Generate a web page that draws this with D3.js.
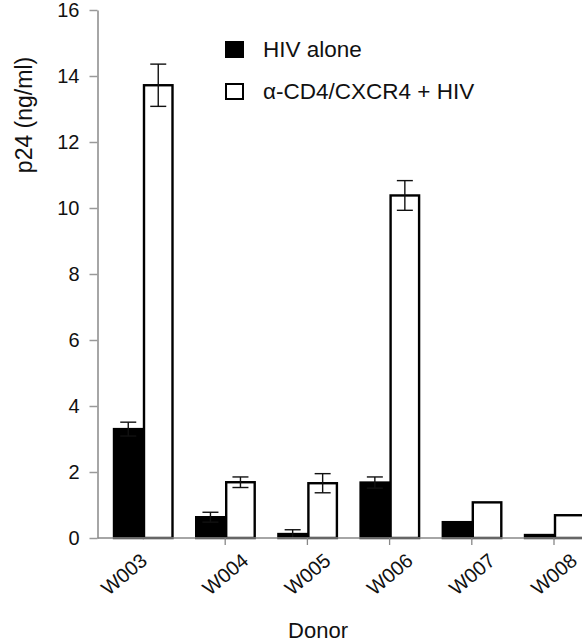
<!DOCTYPE html>
<html>
<head>
<meta charset="utf-8">
<script src="https://cdn.jsdelivr.net/npm/d3@7"></script>
<style>
  html, body { margin: 0; padding: 0; background: #fff; }
  svg { display: block; font-family: "Liberation Sans", Arial, Helvetica, sans-serif; }
</style>
</head>
<body>
<svg id="chart" width="582" height="643"></svg>
<script>
// Donors and p24 readings (ng/ml), mean and error per condition
const donors = ["W003", "W004", "W005", "W006", "W007", "W008"];
const series = ["HIV alone", "\u03B1-CD4/CXCR4 + HIV"];
const hivAlone = [3.30, 0.63, 0.12, 1.68, 0.48, 0.09];
const hivAloneErr = [0.21, 0.15, 0.13, 0.17, 0, 0];
const antiCd4 = [13.72, 1.69, 1.66, 10.38, 1.08, 0.69];
const antiCd4Err = [0.64, 0.16, 0.29, 0.45, 0, 0];
const yTicks = [0, 2, 4, 6, 8, 10, 12, 14, 16];

const svg = d3.select("#chart");

const y = d3.scaleLinear().domain([0, 16]).range([538, 10]);
const x = d3.scalePoint().domain(donors).range([143, 554]);
const xSub = d3.scaleBand().domain(series).range([-30, 30]);

const rows = donors.map((d, i) => ({
  donor: d,
  values: [
    { s: series[0], v: hivAlone[i], e: hivAloneErr[i] },
    { s: series[1], v: antiCd4[i], e: antiCd4Err[i] }
  ]
}));

const fills = { [series[0]]: "#000", [series[1]]: "#fff" };

// Bars
const groups = svg.append("g").selectAll("g")
  .data(rows).join("g")
  .attr("transform", d => `translate(${x(d.donor)},0)`);

groups.selectAll("rect")
  .data(d => d.values).join("rect")
  .attr("x", d => xSub(d.s) + 1)
  .attr("width", xSub.bandwidth() - 1.5)
  .attr("y", d => y(d.v))
  .attr("height", d => y(0) - y(d.v))
  .attr("fill", d => fills[d.s])
  .attr("stroke", "#000")
  .attr("stroke-width", 2.4);

// Error bars
const errs = groups.selectAll("g.err")
  .data(d => d.values.filter(v => v.e > 0)).join("g")
  .attr("class", "err")
  .attr("stroke", "#111")
  .attr("stroke-width", 1.4);
const cx = d => xSub(d.s) + xSub.bandwidth() / 2 + 0.25;
errs.append("line")
  .attr("x1", cx).attr("x2", cx)
  .attr("y1", d => y(d.v + d.e)).attr("y2", d => y(d.v - d.e));
errs.append("line")
  .attr("x1", d => cx(d) - 8).attr("x2", d => cx(d) + 8)
  .attr("y1", d => y(d.v + d.e)).attr("y2", d => y(d.v + d.e));
errs.append("line")
  .attr("x1", d => cx(d) - 8).attr("x2", d => cx(d) + 8)
  .attr("y1", d => y(d.v - d.e)).attr("y2", d => y(d.v - d.e));

// Y axis
const yAxis = svg.append("g")
  .attr("transform", "translate(97.5,0)")
  .call(d3.axisLeft(y).tickValues(yTicks).tickSize(8).tickSizeOuter(0).tickPadding(10));
yAxis.select(".domain").attr("stroke", "#888").attr("stroke-width", 1.5);
yAxis.selectAll(".tick line").attr("stroke", "#999").attr("stroke-width", 1.5);
yAxis.selectAll(".tick text")
  .attr("fill", "#111")
  .style("font-size", "20px")
  .style("font-family", "Liberation Sans, Arial, sans-serif");

// X axis baseline and ticks
svg.append("line")
  .attr("x1", 97.5).attr("x2", 582)
  .attr("y1", y(0)).attr("y2", y(0))
  .attr("stroke", "#888").attr("stroke-width", 1.5);
svg.append("g").selectAll("line")
  .data(donors.slice(1)).join("line")
  .attr("x1", d => x(d)).attr("x2", d => x(d))
  .attr("y1", y(0)).attr("y2", y(0) + 7)
  .attr("stroke", "#888").attr("stroke-width", 1.3);

// Rotated donor labels (the first one sits a little closer to the axis)
svg.append("g").selectAll("text")
  .data(donors).join("text")
  .attr("transform", (d, i) => `translate(${x(d) - (i === 0 ? 19 : 0)},574) rotate(-40)`)
  .attr("text-anchor", "middle")
  .attr("dy", "0.36em")
  .attr("fill", "#111")
  .style("font-size", "20px")
  .text(d => d);

// Axis titles
svg.append("text")
  .attr("transform", "translate(32,115) rotate(-90)")
  .attr("text-anchor", "middle")
  .attr("fill", "#111")
  .style("font-size", "23px")
  .text("p24 (ng/ml)");

svg.append("text")
  .attr("x", 318).attr("y", 638)
  .attr("text-anchor", "middle")
  .attr("fill", "#111")
  .style("font-size", "22px")
  .text("Donor");

// Legend
const legend = svg.append("g").selectAll("g")
  .data(series).join("g")
  .attr("transform", (d, i) => `translate(226,${42 + i * 42})`);
legend.append("rect")
  .attr("x", 0).attr("y", 0)
  .attr("width", 17).attr("height", 15)
  .attr("fill", d => fills[d])
  .attr("stroke", "#000")
  .attr("stroke-width", 2);
legend.append("text")
  .attr("x", 37).attr("y", 15)
  .attr("fill", "#111")
  .style("font-size", "22.5px")
  .text(d => d);
</script>
</body>
</html>
